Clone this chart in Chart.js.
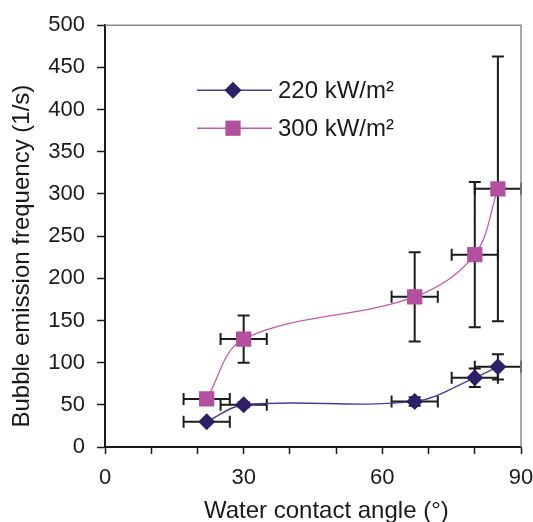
<!DOCTYPE html>
<html>
<head>
<meta charset="utf-8">
<script src="https://cdn.jsdelivr.net/npm/chart.js@4"></script>
<style>
  html, body { margin: 0; padding: 0; background: #fff; }
  #wrap { width: 533px; height: 522px; }
</style>
</head>
<body>
<div id="wrap"><canvas id="bubbleChart"></canvas></div>
<script>
'use strict';

// contact angle (deg) and bubble emission frequency (1/s)
const angles220 = [22, 30, 67, 80, 85];
const freq220 = [30, 50, 54, 82, 95];
const angleErr220 = [5, 5, 5, 5, 5];
const freqErr220 = [0, 3, 5, 11, 15];

const angles300 = [22, 30, 67, 80, 85];
const freq300 = [57, 128, 178, 228, 306];
const angleErr300 = [5, 5, 5, 5, 5];
const freqErr300 = [2, 28, 53, 86, 157];

const labels = ['220 kW/m\u00b2', '300 kW/m\u00b2'];
const xTicks = [0, 30, 60, 90];

const FONT = "'Liberation Sans', Arial, sans-serif";
const NBSP = '\u00a0';

function points(xs, ys) {
    return xs.map((x, i) => ({x: x, y: ys[i]}));
}

// error bars, drawn under the markers
const errorBars = {
    id: 'errorBars',
    beforeDatasetsDraw(chart) {
        const ctx = chart.ctx;
        const xs = chart.scales.x, ys = chart.scales.y;
        const cap = 6;
        ctx.save();
        ctx.strokeStyle = '#1c1c1c';
        ctx.lineWidth = 2;
        chart.data.datasets.forEach(ds => {
            ds.data.forEach((p, i) => {
                const px = xs.getPixelForValue(p.x);
                const py = ys.getPixelForValue(p.y);
                const ex = ds.xErr[i], ey = ds.yErr[i];
                ctx.beginPath();
                if (ex) {
                    const x0 = xs.getPixelForValue(p.x - ex);
                    const x1 = xs.getPixelForValue(p.x + ex);
                    ctx.moveTo(x0, py); ctx.lineTo(x1, py);
                    ctx.moveTo(x0, py - cap); ctx.lineTo(x0, py + cap);
                    ctx.moveTo(x1, py - cap); ctx.lineTo(x1, py + cap);
                }
                if (ey) {
                    const y0 = ys.getPixelForValue(p.y - ey);
                    const y1 = ys.getPixelForValue(p.y + ey);
                    ctx.moveTo(px, y0); ctx.lineTo(px, y1);
                    ctx.moveTo(px - cap, y0); ctx.lineTo(px + cap, y0);
                    ctx.moveTo(px - cap, y1); ctx.lineTo(px + cap, y1);
                }
                ctx.stroke();
            });
        });
        ctx.restore();
    }
};

// grey top/right frame and the legend inside the plot
const frameAndLegend = {
    id: 'frameAndLegend',
    afterDraw(chart) {
        const ctx = chart.ctx;
        const a = chart.chartArea;
        ctx.save();
        ctx.strokeStyle = '#8a8a8a';
        ctx.lineWidth = 1.5;
        ctx.beginPath();
        ctx.moveTo(a.left, a.top);
        ctx.lineTo(a.right, a.top);
        ctx.lineTo(a.right, a.bottom);
        ctx.stroke();

        chart.data.datasets.forEach((ds, i) => {
            const y = a.top + 65 + i * 38;
            const x0 = a.left + 92, x1 = a.left + 167, mx = a.left + 128;
            ctx.strokeStyle = ds.borderColor;
            ctx.lineWidth = 1.5;
            ctx.beginPath();
            ctx.moveTo(x0, y); ctx.lineTo(x1, y);
            ctx.stroke();
            ctx.fillStyle = ds.pointBackgroundColor;
            ctx.beginPath();
            if (ds.pointStyle === 'rectRot') {
                const r = ds.pointRadius;
                ctx.moveTo(mx, y - r); ctx.lineTo(mx + r, y);
                ctx.lineTo(mx, y + r); ctx.lineTo(mx - r, y);
                ctx.closePath();
            } else {
                const h = ds.pointRadius * Math.SQRT1_2;
                ctx.rect(mx - h, y - h, 2 * h, 2 * h);
            }
            ctx.fill();
            ctx.fillStyle = '#1a1a1a';
            ctx.font = '24px ' + FONT;
            ctx.textBaseline = 'middle';
            ctx.fillText(ds.label, x1 + 6, y + 1);
        });
        ctx.restore();
    }
};

new Chart(document.getElementById('bubbleChart'), {
    type: 'scatter',
    data: {
        datasets: [
            {
                label: labels[0],
                data: points(angles220, freq220),
                xErr: angleErr220,
                yErr: freqErr220,
                showLine: true,
                tension: 0.35,
                borderColor: '#4b3d98',
                borderWidth: 1.3,
                pointStyle: 'rectRot',
                pointRadius: 8.5,
                pointBackgroundColor: '#2f1f68',
                pointBorderColor: '#2f1f68',
                pointBorderWidth: 0
            },
            {
                label: labels[1],
                data: points(angles300, freq300),
                xErr: angleErr300,
                yErr: freqErr300,
                showLine: true,
                tension: 0.35,
                borderColor: '#c45aab',
                borderWidth: 1.3,
                pointStyle: 'rect',
                pointRadius: 10.8,
                pointBackgroundColor: '#b2509f',
                pointBorderColor: '#b2509f',
                pointBorderWidth: 0
            }
        ]
    },
    options: {
        responsive: true,
        maintainAspectRatio: false,
        animation: false,
        layout: {padding: {top: 22, right: 12, left: 0, bottom: 0}},
        plugins: {
            legend: {display: false},
            tooltip: {enabled: false}
        },
        scales: {
            x: {
                type: 'linear',
                min: 0,
                max: 90,
                afterFit: s => { s.height = 75; s.paddingRight = 0; s.paddingLeft = 0; },
                afterBuildTicks: s => {
                    s.ticks = [];
                    for (let v = 0; v <= 90; v += 10) s.ticks.push({value: v});
                },
                ticks: {
                    autoSkip: false,
                    maxRotation: 0,
                    padding: 11,
                    color: '#1a1a1a',
                    font: {family: FONT, size: 22},
                    callback: v => xTicks.includes(v) ? String(v) : ''
                },
                grid: {drawOnChartArea: false, tickLength: 7, color: '#1a1a1a', tickWidth: 1.5},
                border: {color: '#1a1a1a', width: 2},
                title: {
                    display: true,
                    text: NBSP.repeat(4) + 'Water contact angle (\u00b0)',
                    color: '#1a1a1a',
                    font: {family: FONT, size: 24},
                    padding: {top: 0, bottom: -4}
                }
            },
            y: {
                min: 0,
                max: 500,
                afterFit: s => { s.width = 105; },
                ticks: {
                    stepSize: 50,
                    padding: 12,
                    color: '#1a1a1a',
                    font: {family: FONT, size: 22}
                },
                grid: {drawOnChartArea: false, tickLength: 8, color: '#1a1a1a', tickWidth: 1.5},
                border: {color: '#1a1a1a', width: 2},
                title: {
                    display: true,
                    text: 'Bubble emission frequency (1/s)' + NBSP.repeat(6),
                    color: '#1a1a1a',
                    font: {family: FONT, size: 24},
                    padding: {top: 8, bottom: 0}
                }
            }
        }
    },
    plugins: [errorBars, frameAndLegend]
});
</script>
</body>
</html>
